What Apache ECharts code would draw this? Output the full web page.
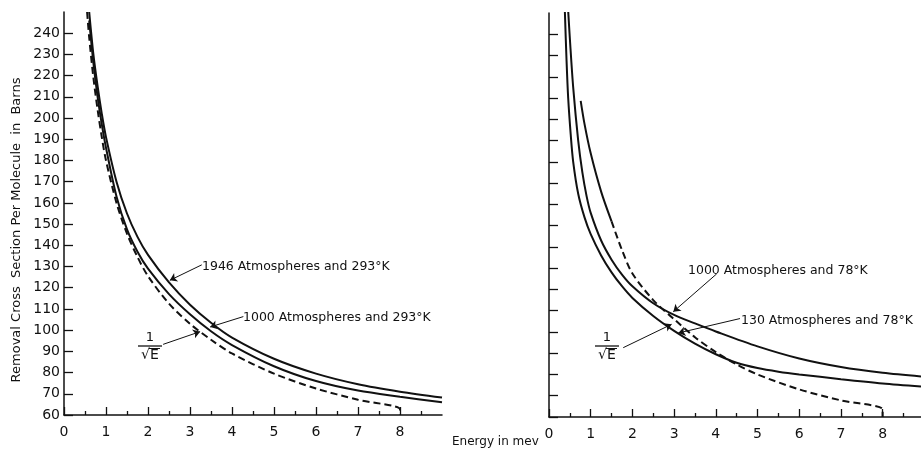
<!DOCTYPE html>
<html>
<head>
<meta charset="utf-8">
<script src="https://cdn.jsdelivr.net/npm/echarts@6/dist/echarts.min.js"></script>
<style>
  html, body { margin: 0; padding: 0; background: #fff; }
  #chart { width: 921px; height: 457px; }
</style>
</head>
<body>
<div id="chart"></div>
<script>
// tick labels
const xTicks = [0, 1, 2, 3, 4, 5, 6, 7, 8]
const xMinor = [0.5, 1.5, 2.5, 3.5, 4.5, 5.5, 6.5, 7.5, 8.5]
const yTicks = [60, 70, 80, 90, 100, 110, 120, 130, 140, 150, 160, 170, 180, 190, 200, 210, 220, 230, 240]

// left panel (293 K), energy in mev / barns
const eHot = [0.6, 0.7, 0.8, 0.9, 1.0, 1.25, 1.5, 1.75, 2.0, 2.5, 3.0, 3.5, 4.0, 5.0, 6.0, 7.0, 8.0, 9.0]
const v1946 = [250, 230, 215, 202, 191, 170, 155, 144, 135.5, 122.5, 112, 103.5, 96.5, 86.5, 79.5, 74.5, 71, 68.2]
const v1000hot = [246, 226, 210, 197, 186, 163, 147.5, 137, 129, 117, 107.5, 99.5, 93, 83, 76, 71.5, 68.6, 66]
const eInvHot = [0.55, 0.6, 0.7, 0.8, 0.9, 1.0, 1.25, 1.5, 1.75, 2.0, 2.5, 3.0, 3.5, 4.0, 5.0, 6.0, 7.0, 8.0, 8.0]
const vInvHot = [250, 238, 219, 204, 191, 180, 160, 145.5, 134.5, 125.5, 112.5, 103, 95.5, 89, 79.5, 72.5, 67.2, 62.7, 60]

// right panel (78 K)
const e1000cold = [0.46, 0.5, 0.58, 0.7, 0.8, 0.9, 1.0, 1.25, 1.5, 1.75, 2.0, 2.5, 3.0, 3.5, 4.0, 5.0, 6.0, 7.0, 8.0, 8.92]
const v1000cold = [251, 238, 215, 190, 175, 164, 156, 143, 134, 127, 121.5, 113.5, 108, 104, 100.2, 93.2, 87.5, 83.5, 80.8, 79.1]
const e130 = [0.38, 0.42, 0.46, 0.52, 0.58, 0.7, 0.85, 1.0, 1.25, 1.5, 1.75, 2.0, 2.5, 3.0, 3.5, 4.0, 4.5, 5.0, 5.5, 6.0, 7.0, 8.0, 8.92]
const v130 = [251, 228, 210, 193, 180, 165, 154, 146, 136, 128, 121.5, 116, 107.5, 100.5, 94.5, 89.5, 85.5, 83, 81.3, 80, 77.8, 75.8, 74.4]
const eInvColdTop = [0.76, 0.85, 1.0, 1.25, 1.5]
const vInvColdTop = [208.7, 198, 184, 166, 152]
const eInvCold = [1.5, 1.75, 2.0, 2.5, 3.0, 3.5, 4.0, 4.5, 5.0, 6.0, 7.0, 8.0, 8.0]
const vInvCold = [152, 138.5, 127.5, 115, 106, 97.5, 90.5, 84.7, 80, 73, 67.8, 63.6, 60]

const zip = (xs, ys) => xs.map((x, i) => [x, ys[i]])
const ink = '#111'
const font = 'DejaVu Sans'

function arrow(from, to) {
  return [{ coord: from, symbol: 'none' }, { coord: to, symbol: 'arrow' }]
}

function curve(name, data, idx, dashed, marks) {
  let s = {
    name: name,
    type: 'line',
    xAxisIndex: idx,
    yAxisIndex: idx,
    data: data,
    smooth: 0.3,
    symbol: 'none',
    silent: true,
    lineStyle: { color: ink, width: 2, type: dashed ? [7, 4] : 'solid' },
  }
  if (marks) {
    s.markLine = {
      silent: true,
      symbolSize: 7,
      label: { show: false },
      lineStyle: { color: ink, width: 1, type: 'solid' },
      data: marks,
    }
  }
  return s
}

function xAxisMain(grid, max) {
  return {
    type: 'value', gridIndex: grid, min: 0, max: max,
    axisLine: { show: true, onZero: false, lineStyle: { color: ink, width: 1.5 } },
    axisTick: { show: true, inside: true, length: 8, customValues: xTicks, lineStyle: { color: ink, width: 1.3 } },
    axisLabel: { show: true, customValues: xTicks, margin: 10, color: ink, fontFamily: font, fontSize: 14 },
    splitLine: { show: false },
  }
}
function xAxisMinor(grid, max) {
  return {
    type: 'value', gridIndex: grid, min: 0, max: max, position: 'bottom',
    axisLine: { show: false },
    axisTick: { show: true, inside: true, length: 4, customValues: xMinor, lineStyle: { color: ink, width: 1.3 } },
    axisLabel: { show: false },
    splitLine: { show: false },
  }
}
function yAxis(grid, labels) {
  return {
    type: 'value', gridIndex: grid, min: 60, max: 250,
    axisLine: { show: true, onZero: false, lineStyle: { color: ink, width: 1.5 } },
    axisTick: { show: true, inside: true, length: 9, customValues: yTicks, lineStyle: { color: ink, width: 1.3 } },
    axisLabel: { show: labels, customValues: yTicks, margin: 4, color: ink, fontFamily: font, fontSize: 14 },
    splitLine: { show: false },
  }
}

function txt(text, x, y, size, align) {
  return {
    type: 'text', silent: true,
    style: { text: text, x: x, y: y, fill: ink, font: size + 'px "' + font + '"', align: align || 'left', verticalAlign: 'middle' },
  }
}
// the 1 over root E label
function fraction(cx) {
  return [
    txt('1', cx, 338, 13, 'center'),
    { type: 'line', silent: true, shape: { x1: cx - 12, y1: 346, x2: cx + 12, y2: 346 }, style: { stroke: ink, lineWidth: 1.3 } },
    txt('√E', cx, 355, 14, 'center'),
    { type: 'line', silent: true, shape: { x1: cx - 1, y1: 348.5, x2: cx + 10, y2: 348.5 }, style: { stroke: ink, lineWidth: 1 } },
  ]
}

const chart = echarts.init(document.getElementById('chart'))
chart.setOption({
  animation: false,
  backgroundColor: '#fff',
  grid: [
    { left: 64, top: 12, width: 378, height: 403 },
    { left: 549, top: 13, width: 372, height: 404 },
  ],
  xAxis: [xAxisMain(0, 9), xAxisMain(1, 8.92), xAxisMinor(0, 9), xAxisMinor(1, 8.92)],
  yAxis: [yAxis(0, true), yAxis(1, false)],
  series: [
    curve('1946 Atmospheres and 293°K', zip(eHot, v1946), 0, false, [arrow([3.28, 130.8], [2.52, 123.5])]),
    curve('1000 Atmospheres and 293°K', zip(eHot, v1000hot), 0, false, [arrow([4.27, 106.4], [3.48, 101.5])]),
    curve('1/√E', zip(eInvHot, vInvHot), 0, true, [arrow([2.36, 93.3], [3.24, 99.3])]),
    curve('1000 Atmospheres and 78°K', zip(e1000cold, v1000cold), 1, false, [arrow([4.02, 127.3], [2.98, 109.5])]),
    curve('130 Atmospheres and 78°K', zip(e130, v130), 1, false, [arrow([4.58, 106.3], [3.10, 99.5])]),
    curve('1/√E', zip(eInvColdTop, vInvColdTop), 1, false),
    curve('1/√E', zip(eInvCold, vInvCold), 1, true, [arrow([1.78, 92.6], [2.94, 103.6])]),
  ],
  graphic: [
    {
      type: 'text', silent: true, x: 17, y: 230, rotation: Math.PI / 2,
      style: { text: 'Removal Cross  Section Per Molecule  in  Barns', x: 0, y: 0, fill: ink, font: '13px "' + font + '"', align: 'center', verticalAlign: 'middle' },
    },
    txt('Energy in mev', 452, 442, 12),
    txt('1946 Atmospheres and 293°K', 202, 267, 12.5),
    txt('1000 Atmospheres and 293°K', 243, 318, 12.5),
    txt('1000 Atmospheres and 78°K', 688, 271, 12.5),
    txt('130 Atmospheres and 78°K', 741, 321, 12.5),
  ].concat(fraction(150), fraction(607)),
})
</script>
</body>
</html>
